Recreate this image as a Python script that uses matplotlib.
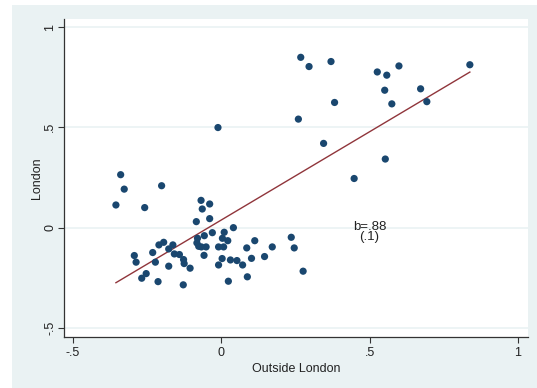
import numpy as np
import matplotlib.pyplot as plt
from matplotlib.patches import Rectangle

plt.rcParams['font.family'] = ['Liberation Sans', 'DejaVu Sans']

# growth outside London (x) vs London (y)
outside = [0.268, 0.296, 0.370, 0.526, 0.558, 0.599, 0.838, 0.551, 0.672, 0.382,
           0.575, 0.693, 0.260, 0.345, 0.553, 0.448,
           -0.011, -0.339, -0.327, -0.201, -0.355, -0.258,
           -0.068, -0.039, -0.064, -0.084, -0.039, 0.041,
           -0.030, 0.010, -0.057, -0.080, 0.004, 0.022, 0.113, 0.236, 0.246, -0.082,
           -0.067, -0.051, -0.009, 0.008, -0.076, 0.086, 0.172, -0.058, 0.003, -0.009,
           0.031, 0.053, 0.072, 0.102, 0.146, 0.088, 0.024, 0.276,
           -0.194, -0.210, -0.163, -0.177, -0.231, -0.158, -0.141, -0.127, -0.125,
           -0.105, -0.293, -0.287, -0.222, -0.177, -0.253, -0.268, -0.213, -0.128]
london = [0.849, 0.803, 0.828, 0.776, 0.760, 0.806, 0.812, 0.685, 0.692, 0.624,
          0.617, 0.628, 0.541, 0.420, 0.342, 0.245,
          0.499, 0.264, 0.192, 0.209, 0.113, 0.100,
          0.136, 0.118, 0.093, 0.030, 0.045, 0.000,
          -0.025, -0.023, -0.040, -0.053, -0.053, -0.065, -0.065, -0.048, -0.101, -0.076,
          -0.096, -0.096, -0.096, -0.096, -0.093, -0.101, -0.096, -0.138, -0.154, -0.186,
          -0.161, -0.164, -0.186, -0.153, -0.144, -0.245, -0.267, -0.217,
          -0.073, -0.086, -0.086, -0.106, -0.124, -0.131, -0.134, -0.159, -0.179,
          -0.202, -0.139, -0.172, -0.172, -0.192, -0.229, -0.252, -0.269, -0.285]

slope = 0.88
slope_se = 0.1
intercept = 0.038

x_ticks = [-0.5, 0, 0.5, 1]
x_labels = ['-.5', '0', '.5', '1']
y_ticks = [-0.5, 0, 0.5, 1]
y_labels = ['-.5', '0', '.5', '1']

bg = '#eaf2f3'
navy = '#1a476f'
maroon = '#90353b'

fig = plt.figure(figsize=(5.37, 3.88), dpi=100)
fig.patches.append(Rectangle((12 / 537, 0), 1 - 12 / 537, 1 - 5 / 388,
                             transform=fig.transFigure, facecolor=bg,
                             edgecolor='none', zorder=-10))
ax = fig.add_axes([64 / 537, 51 / 388, 464 / 537, 318 / 388])
ax.set_facecolor('white')

ax.set_xlim(-0.530, 1.034)
ax.set_ylim(-0.545, 1.040)

for yt in y_ticks:
    ax.axhline(yt, color=bg, lw=1.2, zorder=0)

ax.scatter(outside, london, s=27, color=navy, edgecolors='none', zorder=3)

xs = np.array([min(outside), max(outside)])
ax.plot(xs, intercept + slope * xs, color=maroon, lw=1.0, zorder=2)

ax.text(0.5, 0.035, f"b={slope:.2f}".replace('0.', '.') + "\n" + f"({slope_se:.1f})".replace('0.', '.'),
        ha='center', va='top', fontsize=9.5, color='#222222', linespacing=0.8, zorder=4)

ax.set_xticks(x_ticks)
ax.set_xticklabels(x_labels)
ax.set_yticks(y_ticks)
ax.set_yticklabels(y_labels, rotation=90, va='center')
ax.tick_params(axis='both', direction='out', length=4.5, width=0.8,
               color='#333333', labelsize=9, labelcolor='#222222', pad=2.5)
ax.tick_params(axis='y', pad=1)

for side in ['top', 'right']:
    ax.spines[side].set_visible(False)
for side in ['left', 'bottom']:
    ax.spines[side].set_color('#333333')
    ax.spines[side].set_linewidth(0.9)

ax.set_xlabel('Outside London', fontsize=9, color='#222222', labelpad=3)
ax.set_ylabel('London', fontsize=9, color='#222222', labelpad=1)

fig.savefig('out.png', dpi=100, facecolor='white')
